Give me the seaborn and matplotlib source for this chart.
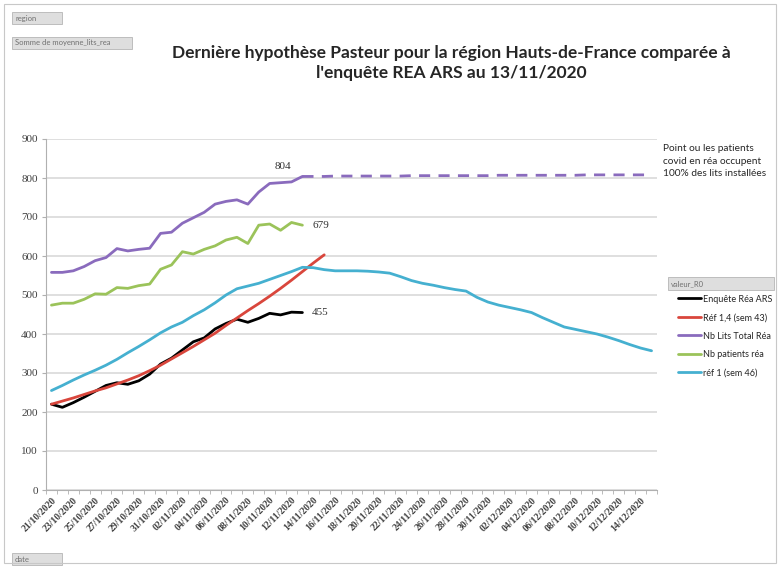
import matplotlib
matplotlib.use("Agg")
import matplotlib.pyplot as plt
from matplotlib.patches import Rectangle
import seaborn as sns
import pandas as pd

# categories: one per day, 21/10/2020 -> 15/12/2020
dates = pd.date_range("2020-10-21", "2020-12-15", freq="D")
date_labels = [d.strftime("%d/%m/%Y") for d in dates]

# series values, starting on 21/10/2020
enquete_rea_ars = [220, 212, 224, 238, 253, 268, 275, 271, 280, 297, 323, 338,
                   359, 380, 390, 413, 427, 438, 430, 440, 453, 449, 456, 455]
ref_14_sem43 = [220, 228, 236, 245, 254, 262, 272, 282, 293, 306, 320, 336, 352,
                368, 385, 402, 422, 441, 460, 478, 497, 517, 538, 560, 582, 603]
nb_lits_total = [558, 558, 562, 573, 588, 596, 619, 613, 617, 620, 658, 661,
                 684, 698, 712, 733, 740, 744, 733, 764, 786, 788, 790, 804]
# plateau from 13/11 onwards (dashed)
nb_lits_plateau = [804, 804, 804, 805, 805, 805, 805, 805, 805, 805, 806,
                   806, 806, 806, 806, 806, 806, 806, 807, 807, 807, 807,
                   807, 807, 807, 807, 808, 808, 808, 808, 808, 808, 808]
nb_patients_rea = [474, 479, 479, 489, 503, 502, 519, 517, 524, 528, 566, 577,
                   611, 605, 617, 626, 641, 648, 632, 679, 682, 666, 686, 679]
ref_1_sem46 = [255, 268, 282, 295, 307, 320, 335, 352, 368, 385, 403, 418, 430,
               447, 462, 480, 500, 516, 523, 530, 540, 550, 560, 571, 570, 565,
               562, 562, 562, 561, 559, 556, 547, 537, 530, 525, 519, 514, 510,
               494, 482, 474, 468, 462, 455, 442, 430, 418, 412, 406, 400, 392,
               383, 373, 364, 357]

series = [
    ("Enquête Réa ARS", enquete_rea_ars, "#000000"),
    ("Réf 1,4 (sem 43)", ref_14_sem43, "#d9463c"),
    ("Nb Lits Total Réa", nb_lits_total, "#8a6bbd"),
    ("Nb patients réa", nb_patients_rea, "#9bc35a"),
    ("réf 1 (sem 46)", ref_1_sem46, "#45b0d0"),
]

sns.set_style("white")
plt.rcParams["font.family"] = ["Lato", "DejaVu Sans"]

fig = plt.figure(figsize=(7.8, 5.67), dpi=100)
ax = fig.add_axes([46 / 780, 77 / 567, 611 / 780, 351 / 567])

for name, vals, col in series:
    sns.lineplot(x=list(range(len(vals))), y=vals, color=col, linewidth=2,
                 label=name, ax=ax)

start = len(nb_lits_total) - 1
sns.lineplot(x=list(range(start, start + len(nb_lits_plateau))), y=nb_lits_plateau,
             color="#8a6bbd", linewidth=2, linestyle=(0, (4, 3)), ax=ax, legend=False)

# data labels at the end of the observed series
lab_kw = dict(fontsize=8, color="#333333", family="Liberation Serif")
ax.annotate(str(nb_lits_total[-1]), (len(nb_lits_total) - 1, nb_lits_total[-1]),
            xytext=(-14, 4), textcoords="offset points", ha="center", va="bottom", **lab_kw)
ax.annotate(str(nb_patients_rea[-1]), (len(nb_patients_rea) - 1, nb_patients_rea[-1]),
            xytext=(7, 0), textcoords="offset points", ha="left", va="center", **lab_kw)
ax.annotate(str(enquete_rea_ars[-1]), (len(enquete_rea_ars) - 1, enquete_rea_ars[-1]),
            xytext=(7, 0), textcoords="offset points", ha="left", va="center", **lab_kw)

ax.set_xlim(-0.5, len(dates) - 0.5)
ax.set_ylim(0, 900)
ax.set_yticks(range(0, 901, 100))
ax.set_xticks(range(0, len(dates), 2))
ax.set_xticklabels(date_labels[::2], rotation=45, ha="right", rotation_mode="anchor",
                   fontsize=7, fontweight="bold", color="#404040", family="Liberation Serif")
ax.set_xticks([i - 0.5 for i in range(len(dates) + 1)], minor=True)
ax.tick_params(axis="x", which="major", length=0, pad=4)
ax.tick_params(axis="x", which="minor", length=3, color="#b0b0b0", bottom=True)
ax.tick_params(axis="y", length=3, color="#b0b0b0", left=True, pad=3)
for t in ax.get_yticklabels():
    t.set_family("Liberation Serif")
    t.set_fontsize(8)
    t.set_color("#404040")
ax.grid(axis="y", color="#d9d9d9", linewidth=1.2)
ax.set_axisbelow(True)
for s in ["top", "right"]:
    ax.spines[s].set_visible(False)
for s in ["left", "bottom"]:
    ax.spines[s].set_color("#b0b0b0")
ax.set_xlabel("")
ax.set_ylabel("")

leg = ax.legend(loc="upper left", bbox_to_anchor=(674 / 780, 1 - 291 / 567),
                bbox_transform=fig.transFigure, frameon=False, fontsize=6.5,
                handlelength=2.6, handletextpad=0.2, labelspacing=1.05, borderaxespad=0)

fig.text(451 / 780, 1 - 63 / 567,
         "Dernière hypothèse Pasteur pour la région Hauts-de-France comparée à\n"
         "l'enquête REA ARS au 13/11/2020",
         ha="center", va="center", fontsize=12.5, fontweight="bold", linespacing=1.35)

fig.text(663 / 780, 1 - 144 / 567,
         "Point ou les patients\ncovid en réa occupent\n100% des lits installées",
         ha="left", va="top", fontsize=7.3, linespacing=1.5)

# pivot chart field buttons
buttons = [("region", 12, 12, 50, 12), ("Somme de moyenne_lits_rea", 12, 37, 120, 12),
           ("valeur_R0", 668, 277, 106, 13), ("date", 12, 553, 50, 12)]
for txt, x0, y0, w, h in buttons:
    fig.patches.append(Rectangle((x0 / 780, 1 - (y0 + h) / 567), w / 780, h / 567,
                                 transform=fig.transFigure, fc="#dedede", ec="#b5b5b5",
                                 lw=0.6))
    fig.text((x0 + 3) / 780, 1 - (y0 + h / 2) / 567, txt, fontsize=5.5,
             color="#707070", ha="left", va="center")

# chart border
fig.patches.append(Rectangle((4 / 780, 4 / 567), 772 / 780, 559 / 567,
                             transform=fig.transFigure, fill=False, ec="#c8c8c8", lw=0.8))

fig.savefig("out.png", dpi=100)
